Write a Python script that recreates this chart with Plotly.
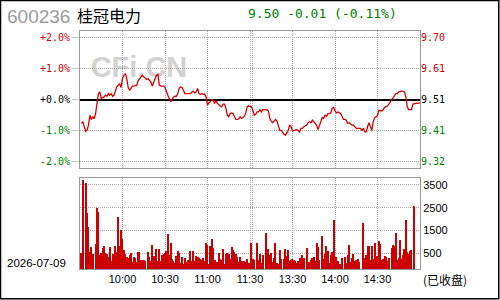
import plotly.graph_objects as go

# ---------------- data ----------------
STOCK_CODE = "600236"
STOCK_NAME = "桂冠电力"
LAST_PRICE = 9.50
CHANGE = -0.01
CHANGE_PCT = -0.11
PREV_CLOSE = 9.51
DATE_TEXT = "2026-07-09"
STATUS_TEXT = "(已收盘)"
WATERMARK = "CFi.CN"

PCT_TICKS = [-2, -1, 0, 1, 2]
TIME_TICKS = [30, 60, 90, 120, 150, 180, 210]          # minutes after 9:30 (13:01 = 121)
TIME_LABELS = ["10:00", "10:30", "11:00", "11:30", "13:30", "14:00", "14:30"]
LUNCH_MARK = 121.5
VOL_TICKS = [500, 1500, 2500, 3500]
VOL_RANGE = [-190, 3800]

AM_PRICE = [9.437, 9.442, 9.427, 9.413, 9.416, 9.432, 9.462, 9.449, 9.457, 9.452,
            9.467, 9.500, 9.528, 9.533, 9.513, 9.516, 9.518, 9.523, 9.520, 9.528,
            9.523, 9.528, 9.520, 9.523, 9.536, 9.549, 9.554, 9.557, 9.547, 9.574,
            9.584, 9.589, 9.574, 9.547, 9.538, 9.544, 9.551, 9.551, 9.551, 9.553,
            9.567, 9.574, 9.581, 9.584, 9.579, 9.574, 9.571, 9.573, 9.569, 9.564,
            9.551, 9.561, 9.571, 9.584, 9.587, 9.554, 9.551, 9.551, 9.551, 9.547,
            9.533, 9.523, 9.513, 9.503, 9.510, 9.518, 9.520, 9.520, 9.528, 9.544,
            9.549, 9.547, 9.538, 9.528, 9.528, 9.528, 9.528, 9.528, 9.533, 9.535,
            9.530, 9.533, 9.544, 9.528, 9.526, 9.528, 9.526, 9.526, 9.518, 9.493,
            9.500, 9.503, 9.510, 9.508, 9.498, 9.506, 9.498, 9.493, 9.490, 9.488,
            9.496, 9.496, 9.483, 9.462, 9.457, 9.467, 9.469, 9.467, 9.457, 9.449,
            9.449, 9.451, 9.457, 9.452, 9.455, 9.459, 9.469, 9.488, 9.490, 9.490]

PM_PRICE = [9.488, 9.477, 9.462, 9.465, 9.472, 9.472, 9.479, 9.472, 9.479, 9.479,
            9.479, 9.479, 9.475, 9.452, 9.444, 9.439, 9.444, 9.449, 9.445, 9.432,
            9.416, 9.416, 9.408, 9.404, 9.401, 9.408, 9.416, 9.432, 9.427, 9.414,
            9.416, 9.418, 9.418, 9.416, 9.411, 9.422, 9.422, 9.427, 9.429, 9.432,
            9.439, 9.442, 9.439, 9.447, 9.442, 9.437, 9.432, 9.418, 9.432, 9.445,
            9.455, 9.452, 9.462, 9.459, 9.467, 9.467, 9.469, 9.483, 9.486, 9.475,
            9.469, 9.472, 9.469, 9.467, 9.459, 9.449, 9.449, 9.447, 9.437, 9.439,
            9.435, 9.432, 9.432, 9.427, 9.422, 9.422, 9.422, 9.422, 9.416, 9.422,
            9.411, 9.411, 9.427, 9.439, 9.427, 9.416, 9.442, 9.455, 9.457, 9.462,
            9.477, 9.477, 9.475, 9.479, 9.486, 9.488, 9.490, 9.496, 9.503, 9.508,
            9.513, 9.520, 9.528, 9.528, 9.533, 9.533, 9.536, 9.535, 9.533, 9.518,
            9.488, 9.479, 9.479, 9.479, 9.496, 9.498, 9.498, 9.498, 9.498, 9.500]

AM_VOL = [500, 3700, 0, 3560, 2280, 1650, 560, 780, 470, 0,
          910, 2500, 2320, 440, 500, 740, 810, 500, 470, 350,
          780, 160, 470, 470, 810, 560, 2100, 810, 1540, 1130,
          660, 470, 320, 290, 440, 500, 130, 350, 290, 130,
          560, 560, 210, 210, 210, 160, 0, 560, 350, 160,
          870, 380, 380, 690, 160, 690, 160, 440, 470, 500,
          590, 1350, 410, 960, 250, 160, 70, 380, 590, 500,
          70, 340, 30, 290, 120, 210, 120, 600, 160, 600,
          160, 380, 350, 290, 240, 210, 290, 160, 960, 880,
          30, 820, 1130, 740, 210, 120, 120, 500, 250, 210,
          690, 30, 470, 500, 470, 250, 780, 660, 560, 470,
          340, 120, 340, 160, 160, 160, 120, 250, 70, 30]

PM_VOL = [960, 250, 210, 0, 960, 210, 470, 70, 440, 0,
          1400, 160, 690, 440, 500, 120, 290, 960, 70, 30,
          650, 250, 0, 250, 690, 380, 650, 160, 210, 250,
          210, 160, 70, 160, 290, 30, 430, 290, 0, 740,
          120, 120, 210, 290, 340, 160, 960, 780, 210, 0,
          1260, 250, 470, 820, 600, 70, 430, 560, 1980, 160,
          340, 160, 30, 30, 290, 0, 340, 70, 430, 870,
          120, 290, 470, 160, 210, 250, 120, 0, 0, 1840,
          290, 430, 820, 820, 210, 820, 250, 960, 250, 380,
          1040, 910, 210, 250, 380, 340, 160, 290, 0, 740,
          870, 820, 1400, 210, 290, 1090, 250, 430, 690, 1970,
          560, 470, 600, 650, 0, 2590, 0, 0, 0, 0]

# ---------------- styling ----------------
UP = "#d00000"
DOWN = "#008000"
FLAT = "#000000"
LINE_RED = "#d40000"
BAR_RED = "#cc0000"
GRID = "#a8a8a8"
BOX = "#9a9a9a"
DOT = "1px,1px"

W, H = 500, 300
L, R, T, B = 80, 80, 31, 31
PW, PH = W - L - R, H - T - B


def px(X):
    return (X - L) / PW


def py(Y):
    return (H - B - Y) / PH


PRICE_DOMAIN = [py(168), 1.0]
VOL_DOMAIN = [0.0, py(178)]
PCT_RANGE = [-2.2, 2.2]

am_min = list(range(1, len(AM_PRICE) + 1))
pm_min = list(range(len(AM_PRICE) + 1, len(AM_PRICE) + len(PM_PRICE) + 1))
minutes = am_min + pm_min
prices = AM_PRICE + PM_PRICE
pcts = [(p / PREV_CLOSE - 1) * 100 for p in prices]
vol_min = list(range(1, len(AM_VOL) + 1)) + list(range(len(AM_VOL) + 1, len(AM_VOL) + len(PM_VOL) + 1))
vols = AM_VOL + PM_VOL


def col(v):
    return UP if v > 0 else (DOWN if v < 0 else FLAT)


left_text = [f'<span style="color:{col(p)}">{p:+.1f}%</span>' for p in PCT_TICKS]

fig = go.Figure()
fig.add_trace(go.Bar(
    x=vol_min, y=[v - VOL_RANGE[0] if v > 0 else 0 for v in vols], base=VOL_RANGE[0],
    xaxis="x2", yaxis="y2", width=0.72,
    marker=dict(color=BAR_RED, line=dict(width=0)), hoverinfo="skip"))
fig.add_trace(go.Scatter(
    x=minutes, y=pcts, xaxis="x", yaxis="y", mode="lines",
    line=dict(color=LINE_RED, width=1.3), hoverinfo="skip"))

grid_x = TIME_TICKS + [LUNCH_MARK]
grid_lbl = TIME_LABELS + [""]

axis_common = dict(showline=True, linecolor=BOX, linewidth=1, mirror=True,
                   zeroline=False, gridcolor=GRID, griddash=DOT, gridwidth=1)

fig.update_layout(
    width=W, height=H, margin=dict(l=L, r=R, t=T, b=B),
    paper_bgcolor="white", plot_bgcolor="white", showlegend=False,
    bargap=0,
    xaxis=dict(domain=[0, 1], range=[0, 240], anchor="y", tickvals=grid_x,
               showticklabels=False, showgrid=True, ticks="", **axis_common),
    yaxis=dict(domain=PRICE_DOMAIN, range=PCT_RANGE, anchor="x", tickvals=PCT_TICKS,
               ticktext=left_text, tickfont=dict(family="DejaVu Sans Mono", size=10),
               showgrid=True, ticks="outside", ticklen=7, tickcolor="#c8c8c8",
               showline=True, linecolor=BOX, linewidth=1, mirror=True,
               gridcolor=GRID, griddash=DOT, gridwidth=1,
               zeroline=True, zerolinecolor="#000000", zerolinewidth=1.5),
    xaxis2=dict(domain=[0, 1], range=[0, 240], anchor="y2", tickvals=grid_x,
                ticktext=grid_lbl, tickfont=dict(family="Liberation Sans", size=11, color="#000"),
                showgrid=True, ticks="", **axis_common),
    yaxis2=dict(domain=VOL_DOMAIN, range=VOL_RANGE, anchor="x2", side="right",
                tickvals=VOL_TICKS, tickfont=dict(family="Liberation Sans", size=11, color="#000"),
                showgrid=True, ticks="", **axis_common),
)

annos = [
    dict(text=STOCK_CODE, x=px(6), y=py(16), font=dict(family="Liberation Sans", size=19, color="#9c9c9c")),
    dict(text=STOCK_NAME, x=px(76), y=py(15), font=dict(family="Noto Sans CJK SC", size=16, color="#000")),
    dict(text=f"{LAST_PRICE:.2f} {CHANGE:+.2f} ({CHANGE_PCT:+.2f}%)", x=px(247), y=py(13.5),
         font=dict(family="DejaVu Sans Mono", size=13, color=DOWN)),
    dict(text=DATE_TEXT, x=px(5.5), y=py(262.5), font=dict(family="Liberation Sans", size=11.5, color="#000")),
    dict(text=STATUS_TEXT, x=px(422), y=py(279.5), font=dict(family="Noto Sans CJK SC", size=12, color="#000")),
]
# right-hand price labels at the percentage levels
dom_span = PRICE_DOMAIN[1] - PRICE_DOMAIN[0]
for p in PCT_TICKS:
    price = PREV_CLOSE * (1 + p / 100)
    yy = PRICE_DOMAIN[0] + (p - PCT_RANGE[0]) / (PCT_RANGE[1] - PCT_RANGE[0]) * dom_span
    annos.append(dict(text=f"{price:.2f}", x=1.0, y=yy,
                      font=dict(family="DejaVu Sans Mono", size=10, color=col(p))))

for a in annos:
    fig.add_annotation(xref="paper", yref="paper", xanchor="left", yanchor="middle",
                       showarrow=False, borderpad=0, **a)

# watermark (behind the line)
fig.add_shape(type="rect", xref="paper", yref="paper", layer="below",
              x0=px(86), x1=px(192), y0=py(77), y1=py(50),
              line=dict(width=0), fillcolor="rgba(0,0,0,0)",
              label=dict(text=f"<b>{WATERMARK}</b>", textposition="middle center",
                         font=dict(family="Liberation Sans", size=29, color="#d2d2d2")))

# outer frame
fig.add_shape(type="rect", xref="paper", yref="paper", layer="above",
              x0=px(0.5), x1=px(498.8), y0=py(298.8), y1=py(0.5),
              line=dict(color="#000", width=1.5), fillcolor="rgba(0,0,0,0)")

fig.write_html("out.html")
